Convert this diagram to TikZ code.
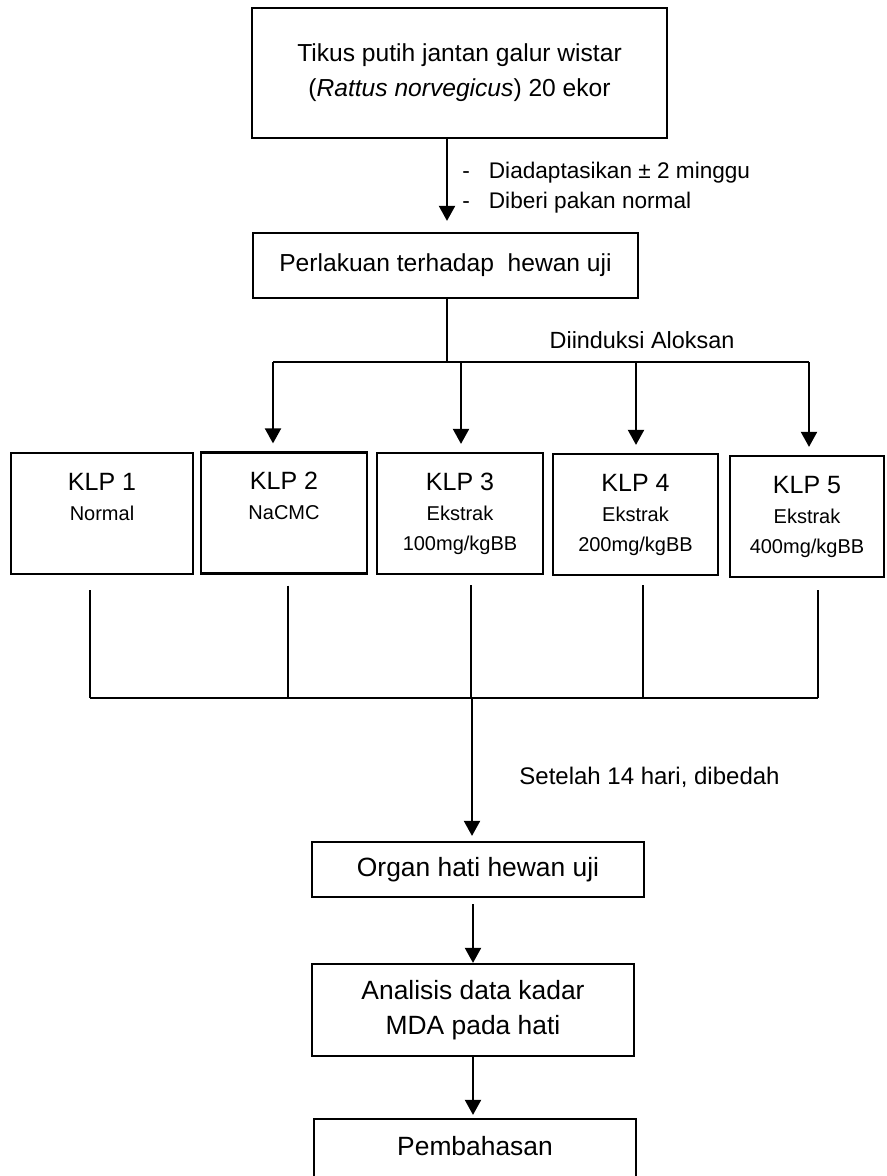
\documentclass[tikz,border=0pt]{standalone}
\usepackage{fontspec}
\setmainfont{Liberation Sans}
\usetikzlibrary{positioning, arrows.meta, calc}

\newcommand{\klphead}[1]{{\fontsize{12.5}{15}\selectfont #1}}

\begin{document}
\begin{tikzpicture}[
    x=0.5pt, y=-0.5pt,
    % --- STYLES ---
    flowbox/.style={
        rectangle, draw, line width=1.1pt, inner sep=0pt, align=center,
        font=\fontsize{12.3}{17.5}\selectfont
    },
    lowbox/.style={
        flowbox, font=\fontsize{13.2}{17.5}\selectfont
    },
    klpbox/.style={
        rectangle, draw, line width=1.1pt, inner sep=0pt, align=center,
        minimum height=60.5pt, font=\fontsize{10}{15}\selectfont
    },
    line/.style={
        draw, line width=0.65pt
    },
    flowarrow/.style={
        draw, line width=1pt, -{Triangle[length=7.5pt, width=8pt]}
    },
    note/.style={
        font=\fontsize{11.3}{15}\selectfont, inner sep=0pt
    }
    ]
    
    \useasboundingbox (0,0) rectangle (887,1176);
    \clip (0,0) rectangle (887,1176);
    
    % ==========================================
    % 1. Hewan uji dan perlakuan
    % ==========================================
    \node [flowbox, minimum width=207.5pt, minimum height=65pt] (tikus) at (459.5,73)
        {Tikus putih jantan galur wistar\\(\textit{Rattus norvegicus}) 20 ekor};
    \node [flowbox, minimum width=192.5pt, minimum height=32.5pt] (perlakuan) at (445.5,265.5)
        {Perlakuan terhadap \ hewan uji};
    
    \coordinate (split) at ($(perlakuan.south)+(1.5,63)$);
    \draw [flowarrow, shorten >=5.5pt] (split |- tikus.south) -- (split |- perlakuan.north);
    \node [note, anchor=west] (adapt) at (462,188) {%
        \begin{tabular}{@{}l@{\hspace{9.5pt}}l@{}}
            - & Diadaptasikan ± 2 minggu\\
            - & Diberi pakan normal
        \end{tabular}};
    
    % ==========================================
    % 2. Kelompok perlakuan
    % ==========================================
    \node [klpbox, minimum width=91pt] (klp1) at (102,513.5)
        {\klphead{KLP 1}\\Normal\\\phantom{100mg/kgBB}};
    \node [klpbox, minimum width=83pt] (klp2) at (284,513)
        {\klphead{KLP 2}\\NaCMC\\\phantom{100mg/kgBB}};
    \node [klpbox, minimum width=83pt] (klp3) at (460,513.5)
        {\klphead{KLP 3}\\Ekstrak\\100mg/kgBB};
    \node [klpbox, minimum width=82.5pt] (klp4) at (635.5,514.5)
        {\klphead{KLP 4}\\Ekstrak\\200mg/kgBB};
    \node [klpbox, minimum width=77pt] (klp5) at (807,516.5)
        {\klphead{KLP 5}\\Ekstrak\\400mg/kgBB};
    
    % --- Percabangan (Aloksan) ---
    \draw [line] (split |- perlakuan.south) -- (split);
    \node [note, font=\fontsize{11.7}{15}\selectfont] (aloksan) at (642,340) {Diinduksi Aloksan};
    
    \coordinate (feed2) at ($(klp2.north)+(-11,0)$);
    \coordinate (feed3) at ($(klp3.north)+(1,0)$);
    \coordinate (feed4) at ($(klp4.north)+(0.5,0)$);
    \coordinate (feed5) at ($(klp5.north)+(2,0)$);
    \draw [line] (feed2 |- split) -- (feed5 |- split);
    \foreach \k in {2,3,4,5}
        \draw [flowarrow, shorten >=4pt] (feed\k |- split) -- (feed\k);
    
    % --- Penggabungan ---
    \coordinate (merge) at (472,698);
    \coordinate (drop1) at ($(klp1.south)+(-12,15)$);
    \coordinate (drop2) at ($(klp2.south)+(4,11)$);
    \coordinate (drop3) at ($(klp3.south)+(11,10)$);
    \coordinate (drop4) at ($(klp4.south)+(7.5,9)$);
    \coordinate (drop5) at ($(klp5.south)+(11,12)$);
    \foreach \k in {1,...,5}
        \draw [line] (drop\k) -- (drop\k |- merge);
    \draw [line, line width=0.9pt] (drop1 |- merge) -- (drop5 |- merge);
    
    % ==========================================
    % 3. Organ, analisis dan pembahasan
    % ==========================================
    \node [lowbox, minimum width=166pt, minimum height=27.5pt] (organ) at (478,869.5)
        {Organ hati hewan uji};
    \draw [flowarrow, shorten >=2.5pt] (merge) -- (merge |- organ.north);
    \node [note, font=\fontsize{12}{15}\selectfont, anchor=west] (bedah) at (519,777)
        {Setelah 14 hari, dibedah};
    
    \node [lowbox, minimum width=161pt, minimum height=46pt] (analisis) at (473,1010)
        {Analisis data kadar\\MDA pada hati};
    \draw [flowarrow, shorten <=3pt] (analisis.north |- organ.south) -- (analisis.north);
    
    \node [lowbox, minimum width=161pt, minimum height=40pt, text height=10pt, text depth=13.6pt]
        (pembahasan) at (475,1159) {Pembahasan};
    \draw [flowarrow, shorten >=1.5pt] (analisis.south) -- (analisis.south |- pembahasan.north);
\end{tikzpicture}
\end{document}
